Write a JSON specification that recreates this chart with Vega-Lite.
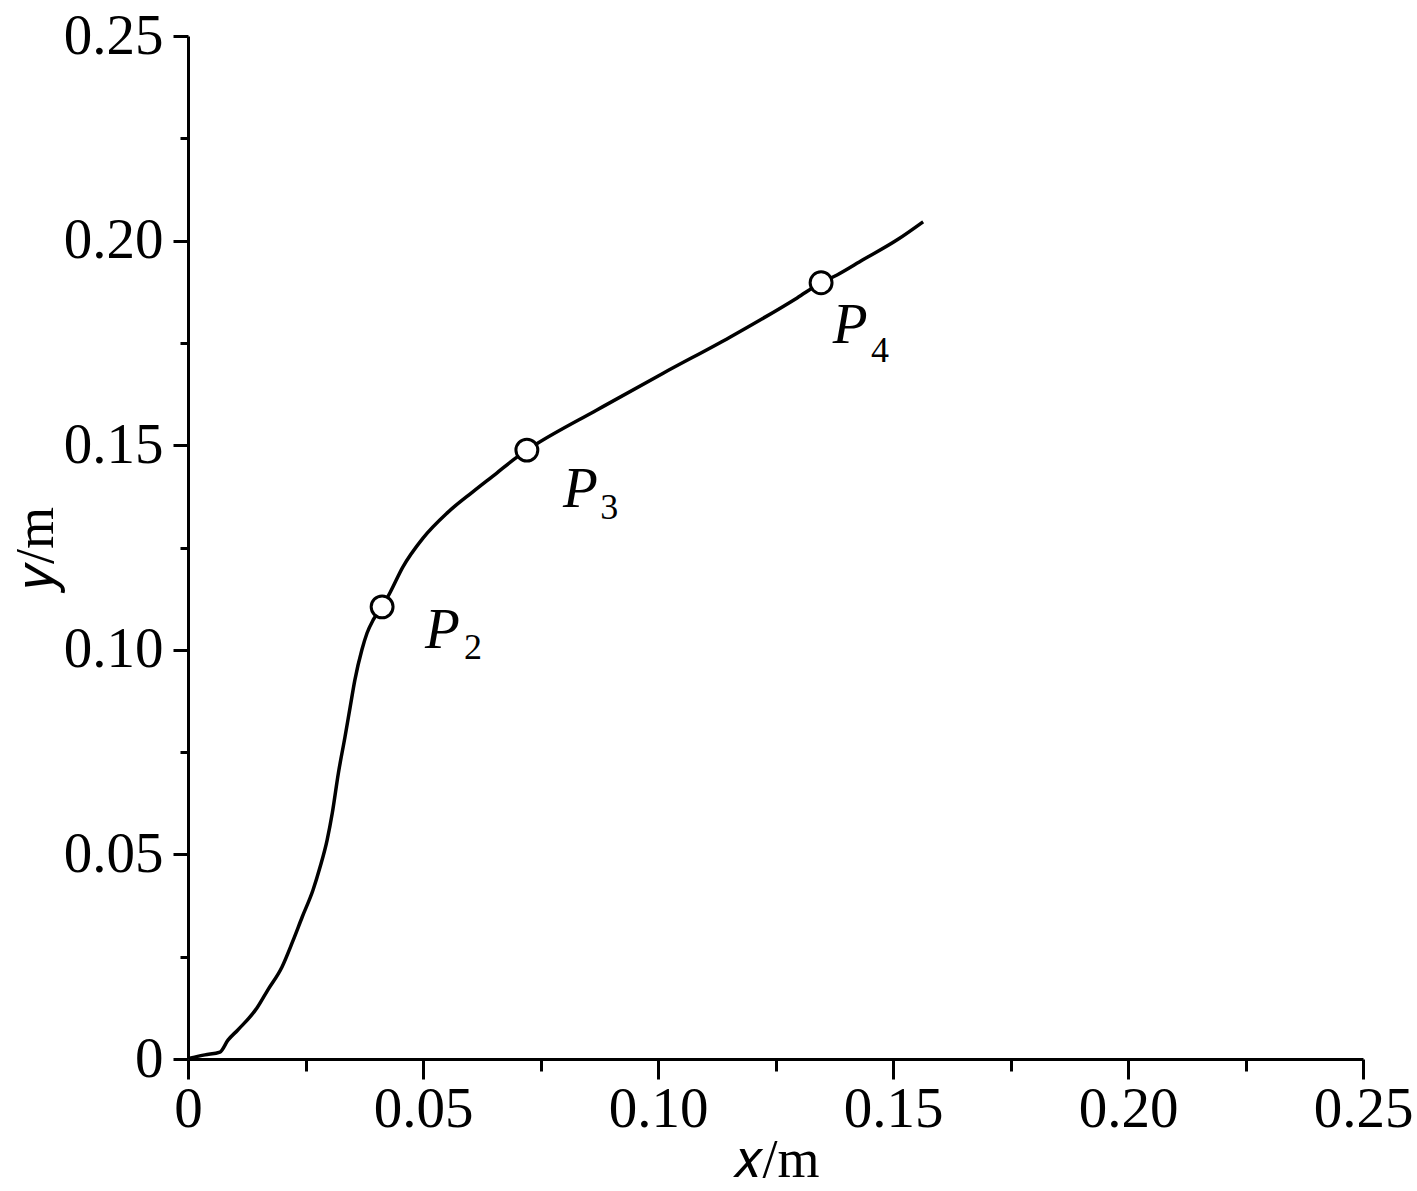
{
  "$schema": "https://vega.github.io/schema/vega-lite/v6.json",
  "width": 1175,
  "height": 1023,
  "autosize": {"type": "none"},
  "padding": {"left": 188, "top": 36, "right": 54, "bottom": 132},
  "background": "white",
  "config": {
    "font": "Liberation Serif",
    "view": {"stroke": null},
    "axis": {
      "grid": false,
      "domainColor": "black",
      "domainWidth": 3,
      "tickColor": "black",
      "tickWidth": 3,
      "labelColor": "black",
      "labelFont": "Liberation Serif",
      "labelFontSize": 57,
      "labelOverlap": false,
      "labelFlush": false,
      "titleFont": "Liberation Serif",
      "titleFontSize": 54,
      "titleFontWeight": "normal",
      "titleColor": "black"
    }
  },
  "datasets": {
    "curve": [
      {"x": 0.0004, "y": 0.0002},
      {"x": 0.0036, "y": 0.0010},
      {"x": 0.0068, "y": 0.0017},
      {"x": 0.0085, "y": 0.0046},
      {"x": 0.0106, "y": 0.0071},
      {"x": 0.0147, "y": 0.0125},
      {"x": 0.0170, "y": 0.0169},
      {"x": 0.0200, "y": 0.0225},
      {"x": 0.0223, "y": 0.0288},
      {"x": 0.0243, "y": 0.0347},
      {"x": 0.0266, "y": 0.0413},
      {"x": 0.0281, "y": 0.0469},
      {"x": 0.0296, "y": 0.0535},
      {"x": 0.0307, "y": 0.0601},
      {"x": 0.0320, "y": 0.0699},
      {"x": 0.0334, "y": 0.0787},
      {"x": 0.0345, "y": 0.0860},
      {"x": 0.0355, "y": 0.0926},
      {"x": 0.0370, "y": 0.1000},
      {"x": 0.0381, "y": 0.1041},
      {"x": 0.0394, "y": 0.1073},
      {"x": 0.0413, "y": 0.1105},
      {"x": 0.0430, "y": 0.1140},
      {"x": 0.0457, "y": 0.1202},
      {"x": 0.0500, "y": 0.1273},
      {"x": 0.0551, "y": 0.1334},
      {"x": 0.0606, "y": 0.1386},
      {"x": 0.0657, "y": 0.1432},
      {"x": 0.0692, "y": 0.1464},
      {"x": 0.0721, "y": 0.1488},
      {"x": 0.0743, "y": 0.1504},
      {"x": 0.0870, "y": 0.1586},
      {"x": 0.1011, "y": 0.1676},
      {"x": 0.1153, "y": 0.1764},
      {"x": 0.1296, "y": 0.1860},
      {"x": 0.1347, "y": 0.1897},
      {"x": 0.1381, "y": 0.1916},
      {"x": 0.1436, "y": 0.1953},
      {"x": 0.1509, "y": 0.2002},
      {"x": 0.1564, "y": 0.2046}
    ],
    "points": [
      {"name": "P2", "x": 0.0413, "y": 0.1105, "lx": 0.0504, "ly": 0.1004, "sx": 0.0587, "sy": 0.0978, "sub": "2"},
      {"name": "P3", "x": 0.0721, "y": 0.1488, "lx": 0.0798, "ly": 0.1349, "sx": 0.0877, "sy": 0.1320, "sub": "3"},
      {"name": "P4", "x": 0.1347, "y": 0.1897, "lx": 0.1372, "ly": 0.1750, "sx": 0.1453, "sy": 0.1703, "sub": "4"}
    ]
  },
  "layer": [
    {
      "data": {"name": "curve"},
      "mark": {"type": "line", "color": "black", "strokeWidth": 3.5, "interpolate": "monotone"},
      "encoding": {
        "x": {
          "field": "x", "type": "quantitative",
          "scale": {"domain": [0, 0.25], "nice": false, "zero": true},
          "axis": {
            "values": [0, 0.025, 0.05, 0.075, 0.1, 0.125, 0.15, 0.175, 0.2, 0.225, 0.25],
            "tickSize": {"condition": {"test": "round(datum.value*1000) % 50 == 0", "value": 20}, "value": 12},
            "labelExpr": "round(datum.value*1000) % 50 == 0 ? (datum.value == 0 ? '0' : format(datum.value, '.2f')) : ''",
            "labelPadding": 2,
            "title": "𝑥/m",
            "titlePadding": -4
          }
        },
        "y": {
          "field": "y", "type": "quantitative",
          "scale": {"domain": [0, 0.25], "nice": false, "zero": true},
          "axis": {
            "values": [0, 0.025, 0.05, 0.075, 0.1, 0.125, 0.15, 0.175, 0.2, 0.225, 0.25],
            "tickSize": {"condition": {"test": "round(datum.value*1000) % 50 == 0", "value": 15}, "value": 8},
            "labelExpr": "round(datum.value*1000) % 50 == 0 ? (datum.value == 0 ? '0' : format(datum.value, '.2f')) : ''",
            "labelPadding": 10,
            "title": "𝑦/m",
            "titlePadding": 0
          }
        }
      }
    },
    {
      "data": {"name": "points"},
      "mark": {"type": "point", "shape": "circle", "filled": true, "fill": "white", "stroke": "black", "strokeWidth": 3, "size": 480, "opacity": 1},
      "encoding": {
        "x": {"field": "x", "type": "quantitative"},
        "y": {"field": "y", "type": "quantitative"}
      }
    },
    {
      "data": {"name": "points"},
      "mark": {"type": "text", "text": "P", "fontStyle": "italic", "fontSize": 57, "align": "left", "baseline": "alphabetic", "color": "black", "font": "Liberation Serif"},
      "encoding": {
        "x": {"field": "lx", "type": "quantitative"},
        "y": {"field": "ly", "type": "quantitative"}
      }
    },
    {
      "data": {"name": "points"},
      "mark": {"type": "text", "fontSize": 36, "align": "left", "baseline": "alphabetic", "color": "black", "font": "Liberation Serif"},
      "encoding": {
        "x": {"field": "sx", "type": "quantitative"},
        "y": {"field": "sy", "type": "quantitative"},
        "text": {"field": "sub"}
      }
    }
  ]
}
